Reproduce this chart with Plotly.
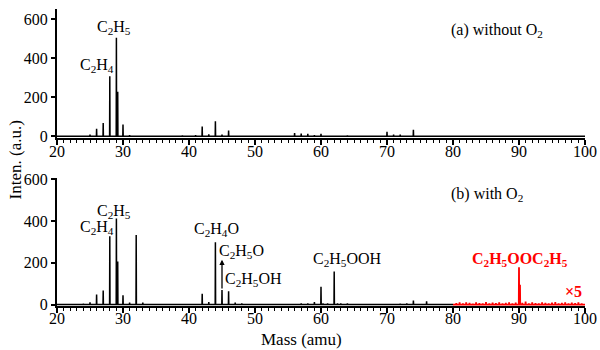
import numpy as np
import plotly.graph_objects as go

# ---------------- data ----------------
# (a) without O2
mass_a = [25, 26, 27, 28, 29, 29.2, 30, 31, 39, 41, 42, 43, 44, 45, 46,
          56, 57, 58, 59, 60, 64, 70, 71, 72, 74]
inten_a = [8, 38, 68, 308, 505, 228, 60, 6, 4, 6, 50, 10, 77, 8, 30,
           16, 14, 12, 6, 12, 5, 23, 8, 8, 33]

# (b) with O2, 20-80 amu (black)
mass_b = [24, 25, 26, 27, 28, 29, 29.2, 30, 31, 32, 33, 42, 43, 44, 45, 46, 47, 48,
          57, 58, 59, 60, 60.3, 61, 62, 62.5, 63, 64, 72, 73, 74, 76]
inten_b = [4, 11, 48, 67, 326, 411, 206, 44, 10, 333, 10, 51, 12, 298, 70, 64, 10, 5,
           5, 6, 12, 85, 6, 5, 158, 5, 5, 6, 4, 5, 19, 15]

# (b) with O2, 80-100 amu (red, x5)
mass_r = [80.5, 81, 81.5, 82, 82.5, 83, 83.5, 84, 84.5, 85, 85.5, 86, 86.5, 87, 87.5,
          88, 88.5, 89, 89.5, 90, 90.15, 90.5, 91, 91.5, 92, 92.5, 93, 93.5, 94, 94.5,
          95, 95.5, 96, 96.5, 97, 97.5, 98, 98.5, 99, 99.5]
inten_r = [7, 10, 5, 11, 8, 4, 10, 7, 6, 12, 5, 9, 7, 10, 6, 8, 11, 5, 9, 178, 95,
           8, 14, 6, 10, 7, 5, 11, 8, 6, 9, 12, 5, 8, 10, 6, 9, 7, 11, 6]

xticks = [20, 30, 40, 50, 60, 70, 80, 90, 100]
yticks = [0, 200, 400, 600]

FONT = "Liberation Serif"


def spikes(m, h, x0, x1, w=0.03):
    xs, ys = [x0], [0]
    for mm, hh in sorted(zip(m, h)):
        xs += [mm - w, mm, mm + w]
        ys += [0, hh, 0]
    xs.append(x1)
    ys.append(0)
    return xs, ys


fig = go.Figure()

xa, ya = spikes(mass_a, inten_a, 20, 100)
fig.add_trace(go.Scatter(x=xa, y=ya, mode="lines", line=dict(color="black", width=1.5),
                         xaxis="x", yaxis="y", showlegend=False, hoverinfo="skip"))

xb, yb = spikes(mass_b, inten_b, 20, 80)
fig.add_trace(go.Scatter(x=xb, y=yb, mode="lines", line=dict(color="black", width=1.5),
                         xaxis="x2", yaxis="y2", showlegend=False, hoverinfo="skip"))

xr, yr = spikes(mass_r, inten_r, 80, 100)
fig.add_trace(go.Scatter(x=xr, y=yr, mode="lines", line=dict(color="red", width=1.8),
                         xaxis="x2", yaxis="y2", showlegend=False, hoverinfo="skip"))

axis_font = dict(family=FONT, size=16, color="black")

xcommon = dict(range=[20, 100], tickvals=xticks, ticks="outside", ticklen=5, tickwidth=1.5,
               tickcolor="black", showline=True, linewidth=2, linecolor="black",
               showgrid=False, zeroline=False, tickfont=axis_font, ticklabelstandoff=-8,
               minor=dict(dtick=1, ticks="outside", ticklen=3, tickwidth=1, tickcolor="black"))
ycommon = dict(tickvals=yticks, ticks="outside", ticklen=4, tickwidth=1.5, tickcolor="black",
               showline=True, linewidth=2, linecolor="black", showgrid=False,
               zeroline=False, tickfont=axis_font)

fig.update_layout(
    width=600, height=350,
    margin=dict(l=57, r=15, t=0, b=44),
    paper_bgcolor="white", plot_bgcolor="white",
    font=dict(family=FONT, size=16, color="black"),
    xaxis=dict(xcommon, anchor="y"),
    yaxis=dict(ycommon, domain=[0.5605, 0.9935], range=[-11, 653]),
    xaxis2=dict(xcommon, anchor="y2"),
    yaxis2=dict(ycommon, domain=[0.0, 0.428], range=[-7, 605]),
)

ann = []


def lab(text, x, y, ax="x", ay="y", color="black", size=16):
    ann.append(dict(text=text, x=x, y=y, xref=ax, yref=ay, showarrow=False,
                    xanchor="center", yanchor="middle",
                    font=dict(family=FONT, size=size, color=color)))


# panel (a)
lab("C<sub>2</sub>H<sub>5</sub>", 28.6, 560)
lab("C<sub>2</sub>H<sub>4</sub>", 26.0, 362)
lab("(a) without O<sub>2</sub>", 86.6, 542)
# panel (b)
lab("(b) with O<sub>2</sub>", 85.2, 526, "x2", "y2")
lab("C<sub>2</sub>H<sub>5</sub>", 28.6, 447, "x2", "y2")
lab("C<sub>2</sub>H<sub>4</sub>", 26.0, 370, "x2", "y2")
lab("C<sub>2</sub>H<sub>4</sub>O", 44.1, 358, "x2", "y2")
lab("C<sub>2</sub>H<sub>5</sub>O", 48.0, 256, "x2", "y2")
lab("C<sub>2</sub>H<sub>5</sub>OH", 49.7, 118, "x2", "y2")
lab("C<sub>2</sub>H<sub>5</sub>OOH", 64.0, 214, "x2", "y2")
lab("<b>C<sub>2</sub>H<sub>5</sub>OOC<sub>2</sub>H<sub>5</sub></b>", 90.2, 214, "x2", "y2",
    color="red")
lab("<b>×5</b>", 98.3, 60, "x2", "y2", color="red")

# arrow on the m/z 45 peak
ann.append(dict(x=45.0, y=214, xref="x2", yref="y2", ax=45.0, ay=70,
                axref="x2", ayref="y2", showarrow=True, arrowhead=2, arrowsize=0.8,
                arrowwidth=1.3, arrowcolor="black", text=""))

# axis titles
ann.append(dict(text="Inten. (a.u.)", x=(15 - 57) / 528, y=(306 - 157) / 306,
                xref="paper", yref="paper", showarrow=False, textangle=-90,
                xanchor="center", yanchor="middle",
                font=dict(family=FONT, size=17, color="black")))
ann.append(dict(text="Mass (amu)", x=(301 - 57) / 528, y=(306 - 340) / 306,
                xref="paper", yref="paper", showarrow=False,
                xanchor="center", yanchor="middle",
                font=dict(family=FONT, size=17, color="black")))

fig.update_layout(annotations=ann)

fig.write_html("out.html")
